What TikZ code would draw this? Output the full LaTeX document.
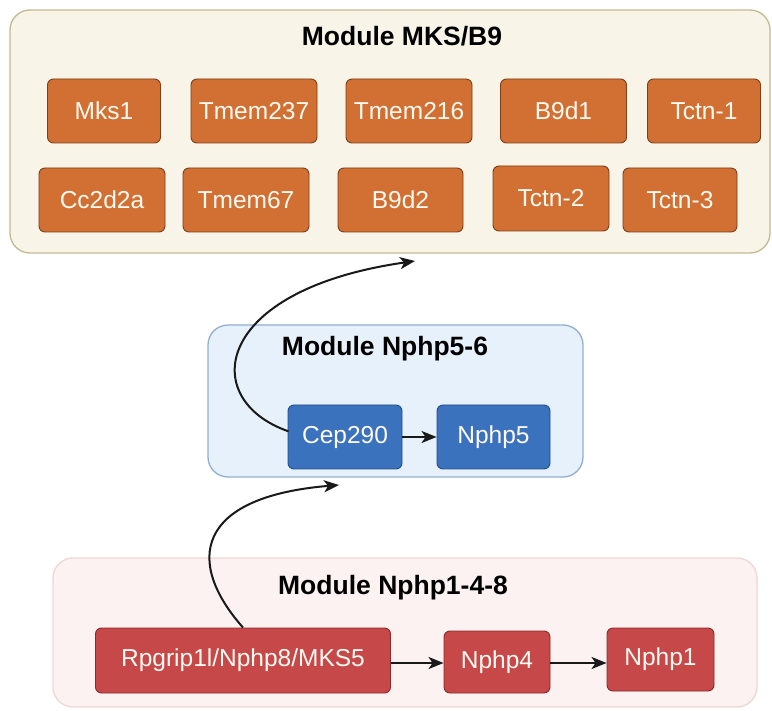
\documentclass[tikz,border=0pt]{standalone}
\usepackage{fontspec}
\setmainfont{Liberation Sans}
\usetikzlibrary{arrows.meta}
\definecolor{creambg}{RGB}{248,244,231}
\definecolor{creamln}{RGB}{196,186,146}
\definecolor{orbox}{RGB}{209,112,50}
\definecolor{orln}{RGB}{125,62,25}
\definecolor{bluebg}{RGB}{231,241,251}
\definecolor{blueln}{RGB}{145,176,208}
\definecolor{blbox}{RGB}{58,114,190}
\definecolor{blln}{RGB}{34,78,138}
\definecolor{pinkbg}{RGB}{252,242,242}
\definecolor{pinkln}{RGB}{240,214,214}
\definecolor{rdbox}{RGB}{199,72,72}
\definecolor{rdln}{RGB}{140,40,40}
\definecolor{gtext}{RGB}{255,250,242}
\definecolor{arrowc}{RGB}{25,25,25}
\tikzset{
  module/.style={rounded corners=20pt, line width=1.3pt},
  gene/.style={rounded corners=6pt, line width=0.9pt, text=gtext, font=\fontsize{24.5}{28}\selectfont, inner sep=0pt, minimum height=64pt},
  orgene/.style={gene, fill=orbox, draw=orln},
  blgene/.style={gene, fill=blbox, draw=blln},
  rdgene/.style={gene, fill=rdbox, draw=rdln},
  modtitle/.style={font=\fontsize{26.5}{30}\selectfont\bfseries, text=black},
  link/.style={draw=arrowc, line width=2pt, -{Stealth[length=15pt,width=12pt,inset=4pt]}},
}
\begin{document}
\begin{tikzpicture}[x=1pt,y=-1pt]
\useasboundingbox (0,0) rectangle (772,711);
\fill[white] (0,0) rectangle (772,711);
% modules
\draw[module, fill=creambg, draw=creamln] (10,10) rectangle (770,253);
\node[modtitle] (t1) at (402,36) {Module MKS/B9};
\draw[module, fill=bluebg, draw=blueln] (208,325) rectangle (583,477);
\node[modtitle] (t2) at (385,349) {Module Nphp5-6};
\draw[module, fill=pinkbg, draw=pinkln] (53,558) rectangle (757,707);
\node[modtitle] (t3) at (393,588) {Module Nphp1-4-8};
% MKS/B9 genes
\node[orgene, minimum width=113pt] (mks1) at (104,111) {Mks1};
\node[orgene, minimum width=126pt] (tmem237) at (254,111) {Tmem237};
\node[orgene, minimum width=126pt] (tmem216) at (409,111) {Tmem216};
\node[orgene, minimum width=126pt] (b9d1) at (563.5,111) {B9d1};
\node[orgene, minimum width=113pt] (tctn1) at (704,111) {Tctn-1};
\node[orgene, minimum width=126pt] (cc2d2a) at (102,200) {Cc2d2a};
\node[orgene, minimum width=126pt] (tmem67) at (246,200) {Tmem67};
\node[orgene, minimum width=125pt] (b9d2) at (400.5,200) {B9d2};
\node[orgene, minimum width=116pt, minimum height=65pt] (tctn2) at (551,198.5) {Tctn-2};
\node[orgene, minimum width=114pt] (tctn3) at (680,200) {Tctn-3};
% Nphp5-6 genes
\node[blgene, minimum width=114pt] (cep290) at (345,437) {Cep290};
\node[blgene, minimum width=113pt] (nphp5) at (493.5,437) {Nphp5};
% Nphp1-4-8 genes
\node[rdgene, minimum width=295pt, minimum height=65pt] (rpg) at (243,660.5) {Rpgrip1l/Nphp8/MKS5};
\node[rdgene, minimum width=106pt, minimum height=62pt] (nphp4) at (497,662) {Nphp4};
\node[rdgene, minimum width=107pt, minimum height=63pt] (nphp1) at (660.5,659.5) {Nphp1};
% target coordinates
\coordinate (up1) at (415,261);
\coordinate (up2) at (339,485);
% connectors
\draw[link] (cep290.east) -- (nphp5.west);
\draw[link] (rpg.east |- 0,663) -- (nphp4.west |- 0,663);
\draw[link] (nphp4.east |- 0,663) -- (nphp1.west |- 0,663);
\draw[link, shorten <=-1pt] ([yshift=6pt]cep290.west) .. controls (198,400) and (212,290) .. (up1);
\draw[link] (rpg.north) .. controls (185,562) and (195,497) .. (up2);
\end{tikzpicture}
\end{document}
